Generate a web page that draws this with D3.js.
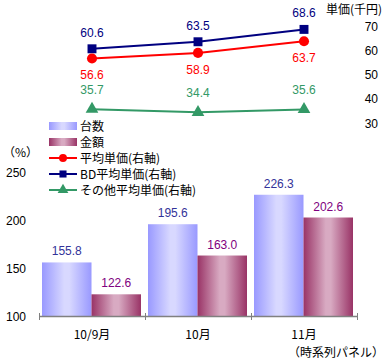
<!DOCTYPE html>
<html><head><meta charset="utf-8">
<script src="https://cdn.jsdelivr.net/npm/d3@7"></script>
<style>body{margin:0;background:#fff}svg{display:block}text{font-family:"Noto Sans CJK JP","DejaVu Sans",sans-serif}text.num{font-family:"Liberation Sans","DejaVu Sans",sans-serif}</style>
</head><body><div id="c"></div>
<script>
const categories = ["10/9月", "10月", "11月"];
const units = [155.8, 195.6, 226.3];        // 台数
const amounts = [122.6, 163.0, 202.6];      // 金額
const avgPrice = [56.6, 58.9, 63.7];        // 平均単価
const bdPrice = [60.6, 63.5, 68.6];         // BD平均単価
const otherPrice = [35.7, 34.4, 35.6];      // その他平均単価
const leftTicks = [100, 150, 200, 250];
const rightTicks = [30, 40, 50, 60, 70];

const W = 388, H = 364;
const svg = d3.select("#c").append("svg").attr("width", W).attr("height", H);
const defs = svg.append("defs");
function grad(id, edge, mid){
  const g = defs.append("linearGradient").attr("id", id).attr("x1","0%").attr("x2","100%").attr("y1","0%").attr("y2","0%");
  g.append("stop").attr("offset","0%").attr("stop-color",edge);
  g.append("stop").attr("offset","45%").attr("stop-color",mid);
  g.append("stop").attr("offset","55%").attr("stop-color",mid);
  g.append("stop").attr("offset","100%").attr("stop-color",edge);
}
grad("gBlue", "#9999ff", "#d8d8ff");
grad("gPurple", "#993366", "#d8aac2");

const x = d3.scaleBand().domain(categories).range([39, 357]).paddingInner(0).paddingOuter(0);
const xs = d3.scaleBand().domain(["u","a"]).range([3, x.bandwidth()-4]);
const yL = d3.scaleLinear().domain([100, 250]).range([316, 172]);
const yR = d3.scaleLinear().domain([30, 70]).range([123, 26]);
const fs = 12;

// bars
const groups = svg.append("g").selectAll("g").data(categories).join("g")
  .attr("transform", d => `translate(${x(d)},0)`);
groups.append("rect").attr("x", xs("u")).attr("width", xs.bandwidth())
  .attr("y", (d,i) => yL(units[i])).attr("height", (d,i) => yL(100) - yL(units[i]))
  .attr("fill", "url(#gBlue)");
groups.append("rect").attr("x", xs("a")).attr("width", xs.bandwidth())
  .attr("y", (d,i) => yL(amounts[i])).attr("height", (d,i) => yL(100) - yL(amounts[i]))
  .attr("fill", "url(#gPurple)");
groups.append("text").attr("class","num").attr("x", xs("u") + xs.bandwidth()/2).attr("y", (d,i) => yL(units[i]) - 7)
  .attr("text-anchor","middle").attr("font-size",fs).attr("fill","#333399").text((d,i)=>units[i].toFixed(1));
groups.append("text").attr("class","num").attr("x", xs("a") + xs.bandwidth()/2).attr("y", (d,i) => yL(amounts[i]) - 7)
  .attr("text-anchor","middle").attr("font-size",fs).attr("fill","#800080").text((d,i)=>amounts[i].toFixed(1));

// x axis
const ax = svg.append("g");
ax.append("line").attr("x1",39).attr("x2",357).attr("y1",316.5).attr("y2",316.5).attr("stroke","#808080").attr("stroke-width",1.5);
const tickXs = categories.map(c => x(c)).concat([x(categories[2]) + x.bandwidth()]);
ax.selectAll(".t").data(tickXs).join("line").attr("x1", d=>Math.round(d)+0.5).attr("x2", d=>Math.round(d)+0.5)
  .attr("y1", 313).attr("y2", 320).attr("stroke","#808080");
svg.append("g").selectAll("text").data(categories).join("text")
  .attr("x", d => x(d) + x.bandwidth()/2).attr("y", 339).attr("text-anchor","middle")
  .attr("font-size",fs).attr("fill","#000").text(d=>d);
svg.append("text").attr("x", 384).attr("y", 357).attr("text-anchor","end").attr("font-size",fs).text("（時系列パネル）");

// left axis labels
svg.append("g").selectAll("text").data(leftTicks).join("text").attr("class","num")
  .attr("x", 6).attr("y", d => yL(d) + 4.5).attr("font-size",fs).text(d=>d);
svg.append("text").attr("x", 3).attr("y", 157).attr("font-size",fs).text("（%）");

// right axis labels
svg.append("g").selectAll("text").data(rightTicks).join("text").attr("class","num")
  .attr("x", 378).attr("y", d => yR(d) + 4.5).attr("text-anchor","end").attr("font-size",fs).text(d=>d);
svg.append("text").attr("x", 382).attr("y", 14).attr("text-anchor","end").attr("font-size",fs).text("単価(千円)");

// lines
const cx = c => x(c) + x.bandwidth()/2;
function series(vals, color, marker, labelDy){
  const g = svg.append("g");
  g.append("path").datum(vals).attr("fill","none").attr("stroke",color).attr("stroke-width",2)
    .attr("d", d3.line().x((d,i)=>cx(categories[i])).y(d=>yR(d)));
  const sym = d3.symbol().type(marker).size(marker===d3.symbolTriangle?70:80);
  g.selectAll("path.m").data(vals).join("path").attr("class","m")
    .attr("transform",(d,i)=>`translate(${cx(categories[i])},${yR(d)})`).attr("d", sym).attr("fill",color);
  g.selectAll("text").data(vals).join("text").attr("class","num").attr("x",(d,i)=>cx(categories[i])).attr("y",d=>yR(d)+labelDy)
    .attr("text-anchor","middle").attr("font-size",fs).attr("fill",color).text(d=>d.toFixed(1));
}
series(bdPrice, "#000080", d3.symbolSquare, -12);
series(avgPrice, "#ff0000", d3.symbolCircle, 21);
series(otherPrice, "#339966", d3.symbolTriangle, -15);

// legend
const leg = svg.append("g");
const items = [
  {t:"台数", type:"bar", fill:"url(#gBlue)"},
  {t:"金額", type:"bar", fill:"url(#gPurple)"},
  {t:"平均単価(右軸)", type:"line", c:"#ff0000", m:d3.symbolCircle},
  {t:"BD平均単価(右軸)", type:"line", c:"#000080", m:d3.symbolSquare},
  {t:"その他平均単価(右軸)", type:"line", c:"#339966", m:d3.symbolTriangle}
];
items.forEach((it,i)=>{
  const yy = 126 + i*16;
  if (it.type==="bar") {
    leg.append("rect").attr("x",49).attr("y",yy-4).attr("width",28).attr("height",8).attr("fill",it.fill);
  } else {
    leg.append("line").attr("x1",49).attr("x2",77).attr("y1",yy).attr("y2",yy).attr("stroke",it.c).attr("stroke-width",2);
    leg.append("path").attr("transform",`translate(63,${yy})`).attr("d", d3.symbol().type(it.m).size(50)()).attr("fill",it.c);
  }
  leg.append("text").attr("x",80).attr("y",yy+4.5).attr("font-size",fs).text(it.t);
});
</script></body></html>
